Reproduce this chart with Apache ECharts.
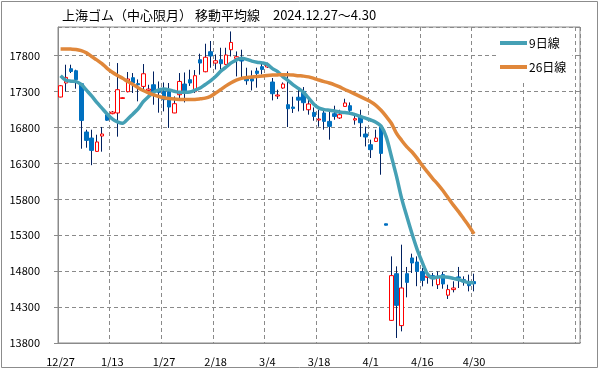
<!DOCTYPE html>
<html><head><meta charset="utf-8">
<script src="https://cdn.jsdelivr.net/npm/echarts@6/dist/echarts.min.js"></script>
<style>html,body{margin:0;padding:0;background:#fff}#c{width:599px;height:369px}</style>
</head><body><div id="c"></div>
<script>
const titleText = '上海ゴム（中心限月） 移動平均線　2024.12.27～4.30';
const legendNames = ['9日線', '26日線'];
const dates = ['12/27','12/30','12/31','1/2','1/3','1/6','1/7','1/8','1/9','1/10',
  '1/13','1/14','1/15','1/16','1/17','1/20','1/21','1/22','1/23','1/24',
  '1/27','2/5','2/6','2/7','2/10','2/11','2/12','2/13','2/14','2/17',
  '2/18','2/19','2/20','2/21','2/24','2/25','2/26','2/27','2/28','3/3',
  '3/4','3/5','3/6','3/7','3/10','3/11','3/12','3/13','3/14','3/17',
  '3/18','3/19','3/20','3/21','3/24','3/25','3/26','3/27','3/28','3/31',
  '4/1','4/2','4/3','4/7','4/8','4/9','4/10','4/11','4/14','4/15',
  '4/16','4/17','4/18','4/21','4/22','4/23','4/24','4/25','4/28','4/29',
  '4/30'];
const blankSlots = ['','','','','','','','','','','','','','','','','','','',''];
const openV = [17225,17420,17619,17591,17410,16738,16654,16468,16682,16979,
  16993,17003,17205,17299,17494,17412,17373,17317,17396,17327,
  17303,17303,17003,17257,17406,17466,17300,17744,17577,17856,
  17698,17744,17679,17884,17763,17772,17487,17480,17587,17647,
  17643,17434,17239,17350,17118,17086,17222,17303,17048,17011,
  16905,17003,16886,16993,16933,17094,17104,16905,16951,16710,
  16561,16607,16808,15460,14115,14765,14042,14765,14984,14928,
  14797,14714,14738,14612,14752,14466,14543,14720,14682,14658,
  14655];
const closeV = [17382,17498,17581,17466,16899,16621,16482,16599,16710,16902,
  17016,17327,17215,17476,17420,17395,17549,17336,17306,17289,
  17188,17086,17132,17442,17285,17420,17522,17698,17779,17796,
  17730,17689,17810,17985,17786,17726,17452,17448,17554,17609,
  17671,17271,17253,17406,17062,17066,17181,17146,17128,16955,
  16919,16886,16816,16955,16979,17142,17039,16923,16867,16668,
  16492,16654,16440,15440,14738,14324,14566,14644,14914,14797,
  14672,14731,14710,14717,14622,14543,14566,14705,14650,14598,
  14625];
const lowV = [17220,17303,17559,17341,16505,16519,16276,16460,16464,16895,
  16985,16673,17200,17290,17281,17165,17327,17211,17118,17007,
  17025,16794,17000,17188,17150,17380,17280,17536,17570,17633,
  17609,17609,17670,17790,17512,17466,17396,17317,17355,17540,
  17630,17178,17197,17340,16807,17003,17025,17034,16979,16895,
  16812,16770,16631,16909,16920,17090,16979,16840,16672,16537,
  16376,16600,16143,15440,14110,13870,13962,14436,14775,14591,
  14589,14626,14590,14552,14556,14413,14505,14566,14598,14519,
  14519];
const highV = [17390,17675,17675,17605,17420,16770,16770,16700,16808,17020,
  17030,17698,17220,17573,17559,17470,17684,17396,17581,17442,
  17428,17420,17233,17559,17567,17605,17600,17828,17967,18005,
  17818,17911,17911,18138,17860,17884,17633,17595,17633,17703,
  17703,17490,17327,17428,17581,17229,17327,17364,17211,17080,
  17048,17072,17025,17104,17048,17201,17150,17003,17048,16812,
  16631,16770,16840,15460,15006,14867,15169,14859,15044,15006,
  14845,14779,14775,14797,14793,14612,14659,14859,14728,14752,
  14765];
const ma9 = [17522,17460,17445,17440,17400,17320,17240,17150,17070,16990,
  16920,16880,16860,16920,16990,17060,17160,17230,17290,17325,
  17335,17325,17305,17290,17290,17295,17320,17350,17400,17450,
  17510,17585,17640,17700,17740,17765,17750,17725,17710,17700,
  17680,17620,17580,17510,17455,17395,17345,17290,17210,17125,
  17070,17050,17040,17030,17015,17008,17000,16980,16955,16930,
  16905,16875,16820,16670,16400,16120,15810,15560,15320,15100,
  14920,14760,14705,14720,14722,14715,14700,14685,14660,14640,
  14638];
const ma26 = [17893,17893,17892,17888,17870,17840,17790,17742,17690,17625,
  17570,17525,17485,17440,17400,17355,17315,17283,17255,17233,
  17215,17203,17196,17192,17190,17190,17192,17200,17210,17235,
  17280,17330,17380,17425,17460,17485,17496,17505,17512,17518,
  17525,17530,17533,17535,17534,17530,17522,17516,17505,17485,
  17462,17440,17420,17395,17365,17330,17300,17265,17230,17195,
  17160,17110,17040,16955,16860,16720,16620,16530,16460,16370,
  16270,16180,16090,16010,15920,15820,15720,15630,15530,15430,
  15320];

const FONT = 'Noto Sans CJK JP';
const chart = echarts.init(document.getElementById('c'), null, {renderer: 'canvas'});
const cats = dates.concat(blankSlots);
const ohlc = dates.map((d, i) => [openV[i], closeV[i], lowV[i], highV[i]]);
const bodies = dates.map((d, i) => [openV[i], closeV[i], Math.min(openV[i], closeV[i]), Math.max(openV[i], closeV[i])]);
const gridColor = '#8a8a8a';
chart.setOption({
  animation: false,
  backgroundColor: '#fff',
  title: {
    text: titleText, left: 62, top: 9, padding: 0,
    textStyle: {fontFamily: FONT, fontSize: 13, fontWeight: 'normal', color: '#000'}
  },
  legend: {
    data: legendNames, orient: 'vertical', left: 497, top: 28,
    padding: [9, 6, 9, 3], itemWidth: 27, itemHeight: 4, itemGap: 12,
    icon: 'rect',
    backgroundColor: '#fff',
    textStyle: {fontFamily: FONT, fontSize: 12, color: '#000', padding: [0, 0, 0, -3]}
  },
  grid: {left: 58, right: 19, top: 27, bottom: 26, show: true, borderColor: gridColor, borderWidth: 1},
  graphic: [{
    type: 'rect', silent: true, z: 100,
    shape: {x: 1.5, y: 1.5, width: 596, height: 366},
    style: {fill: 'none', stroke: '#8c8c8c', lineWidth: 1}
  }],
  xAxis: {
    type: 'category', data: cats, boundaryGap: true,
    axisLine: {lineStyle: {color: gridColor}},
    axisTick: {interval: 9, length: 4, lineStyle: {color: gridColor}},
    axisLabel: {interval: 9, color: '#000', fontFamily: FONT, fontSize: 11, margin: 13},
    splitLine: {show: true, interval: 9, lineStyle: {color: gridColor, type: [4, 3], width: 1}}
  },
  yAxis: {
    type: 'value', min: 13800, max: 18200, interval: 500,
    axisLine: {show: true, lineStyle: {color: gridColor}},
    axisTick: {show: true, length: 4, lineStyle: {color: gridColor}},
    axisLabel: {showMaxLabel: false, color: '#000', fontFamily: FONT, fontSize: 11, margin: 18,
      formatter: v => String(v)},
    splitLine: {show: true, lineStyle: {color: gridColor, type: [4, 3], width: 1}}
  },
  series: [
    {
      name: 'wick', type: 'candlestick', data: ohlc, barWidth: 1,
      itemStyle: {color: '#002060', color0: '#002060', borderColor: '#002060', borderColor0: '#002060', borderWidth: 1},
      z: 2
    },
    {
      name: 'body', type: 'candlestick', data: bodies, barWidth: 4,
      itemStyle: {color: '#ffffff', color0: '#0070c0', borderColor: '#ff0000', borderColor0: '#0070c0', borderWidth: 1},
      z: 3
    },
    {
      name: legendNames[0], type: 'line', data: ma9, smooth: 0.3, symbol: 'none',
      lineStyle: {color: '#45a0b5', width: 3.5}, itemStyle: {color: '#45a0b5'}, z: 4
    },
    {
      name: legendNames[1], type: 'line', data: ma26, smooth: 0.3, symbol: 'none',
      lineStyle: {color: '#e0873a', width: 3.5}, itemStyle: {color: '#e0873a'}, z: 4
    }
  ]
});
</script></body></html>
